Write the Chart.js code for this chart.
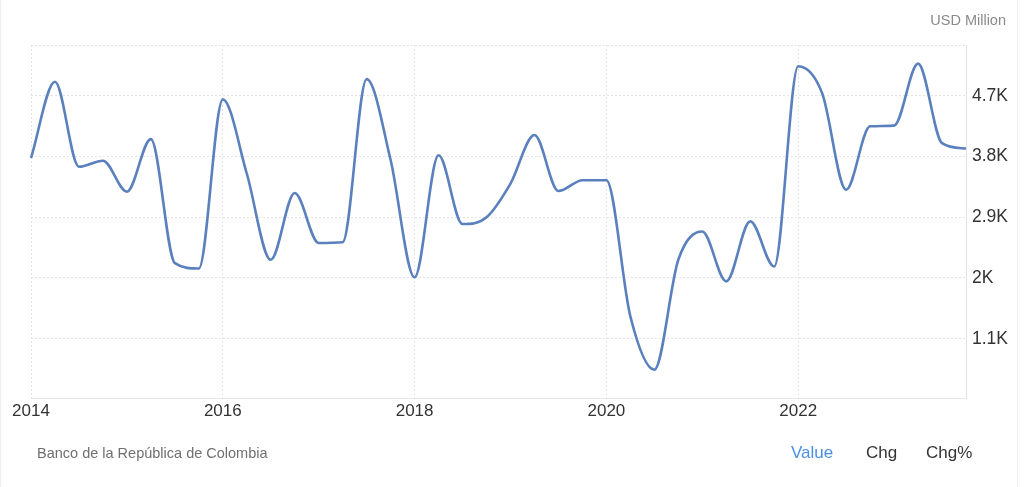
<!DOCTYPE html>
<html>
<head>
<meta charset="utf-8">
<script src="https://cdn.jsdelivr.net/npm/chart.js@4/dist/chart.umd.min.js"></script>
<style>
  html, body { margin: 0; padding: 0; background: #fff; }
  body { width: 1024px; height: 487px; position: relative; overflow: hidden; font-family: "Liberation Sans", Arial, Helvetica, sans-serif; }
  #wrap { position: absolute; left: 0; top: 0; width: 1024px; height: 487px; }
  .unit { position: absolute; right: 18px; top: 12px; font-size: 14.5px; color: #8a8a8a; }
  .src { position: absolute; left: 37px; top: 445px; font-size: 14.5px; color: #707070; }
  .tabs { position: absolute; top: 443px; font-size: 17px; color: #333; }
  .edge { position: absolute; top: 0; width: 1px; height: 487px; background: #efefef; }
</style>
</head>
<body>
<div class="edge" style="left:0"></div>
<div class="edge" style="left:1017px"></div>
<div id="wrap"><canvas id="c" width="1024" height="487"></canvas></div>
<div class="unit">USD Million</div>
<div class="src">Banco de la República de Colombia</div>
<div class="tabs" style="left:791px;color:#4a90e2">Value</div>
<div class="tabs" style="left:866px">Chg</div>
<div class="tabs" style="left:926px">Chg%</div>
<script>
const quarters = [
  "2014Q1","2014Q2","2014Q3","2014Q4",
  "2015Q1","2015Q2","2015Q3","2015Q4",
  "2016Q1","2016Q2","2016Q3","2016Q4",
  "2017Q1","2017Q2","2017Q3","2017Q4",
  "2018Q1","2018Q2","2018Q3","2018Q4",
  "2019Q1","2019Q2","2019Q3","2019Q4",
  "2020Q1","2020Q2","2020Q3","2020Q4",
  "2021Q1","2021Q2","2021Q3","2021Q4",
  "2022Q1","2022Q2","2022Q3","2022Q4",
  "2023Q1","2023Q2","2023Q3","2023Q4"
];
const values = [
  3780, 4910, 3650, 3740,
  3280, 4060, 2220, 2140,
  4650, 3550, 2270, 3260,
  2520, 2530, 4950, 3750,
  2010, 3820, 2800, 2900,
  3400, 4120, 3290, 3450,
  3450, 1430, 640, 2270,
  2690, 1950, 2840, 2170,
  5140, 4740, 3310, 4250,
  4260, 5180, 4000, 3920
];
const xTickLabels = ["2014", "2016", "2018", "2020", "2022"];
const yTickValues = [1100, 2000, 2900, 3800, 4700];
const yMin = 220, yMax = 5456;

const gridColor = "#e4e4e4";

new Chart(document.getElementById("c"), {
  type: "line",
  data: {
    labels: quarters,
    datasets: [{
      data: values,
      borderColor: "#5b80be",
      borderWidth: 2.6,
      pointRadius: 0,
      fill: false,
      cubicInterpolationMode: "monotone"
    }]
  },
  options: {
    responsive: false,
    animation: false,
    layout: { padding: { left: 31, top: 45, right: 0, bottom: 0 } },
    plugins: { legend: { display: false }, tooltip: { enabled: false } },
    scales: {
      x: {
        type: "category",
        offset: false,
        afterBuildTicks: (scale) => {
          scale.ticks = scale.ticks.filter(t => xTickLabels.includes(quarters[t.value].slice(0, 4)) && quarters[t.value].endsWith("Q1"));
        },
        afterFit: (scale) => { scale.height = 89; },
        ticks: {
          autoSkip: false,
          maxRotation: 0,
          padding: 3,
          color: "#333",
          font: { family: "Liberation Sans, Arial, sans-serif", size: 17 },
          callback: function (v) { return quarters[v].slice(0, 4); }
        },
        grid: { color: gridColor, drawTicks: false, lineWidth: 1 },
        border: { display: true, color: "#e6e6e6", width: 1, dash: [2, 2] }
      },
      y: {
        position: "right",
        min: yMin,
        max: yMax,
        afterBuildTicks: (scale) => {
          scale.ticks = [yMin].concat(yTickValues, [yMax]).map(v => ({ value: v }));
        },
        afterFit: (scale) => { scale.width = 58; },
        ticks: {
          padding: 6,
          color: "#333",
          font: { family: "Liberation Sans, Arial, sans-serif", size: 17.5 },
          callback: function (v) {
            if (!yTickValues.includes(v)) return "";
            const k = v / 1000;
            return (Number.isInteger(k) ? k.toFixed(0) : k.toFixed(1)) + "K";
          }
        },
        grid: { color: gridColor, drawTicks: false, lineWidth: 1 },
        border: { display: true, color: "#dde3ec", width: 1, dash: [2, 2] }
      }
    }
  }
});
</script>
</body>
</html>
